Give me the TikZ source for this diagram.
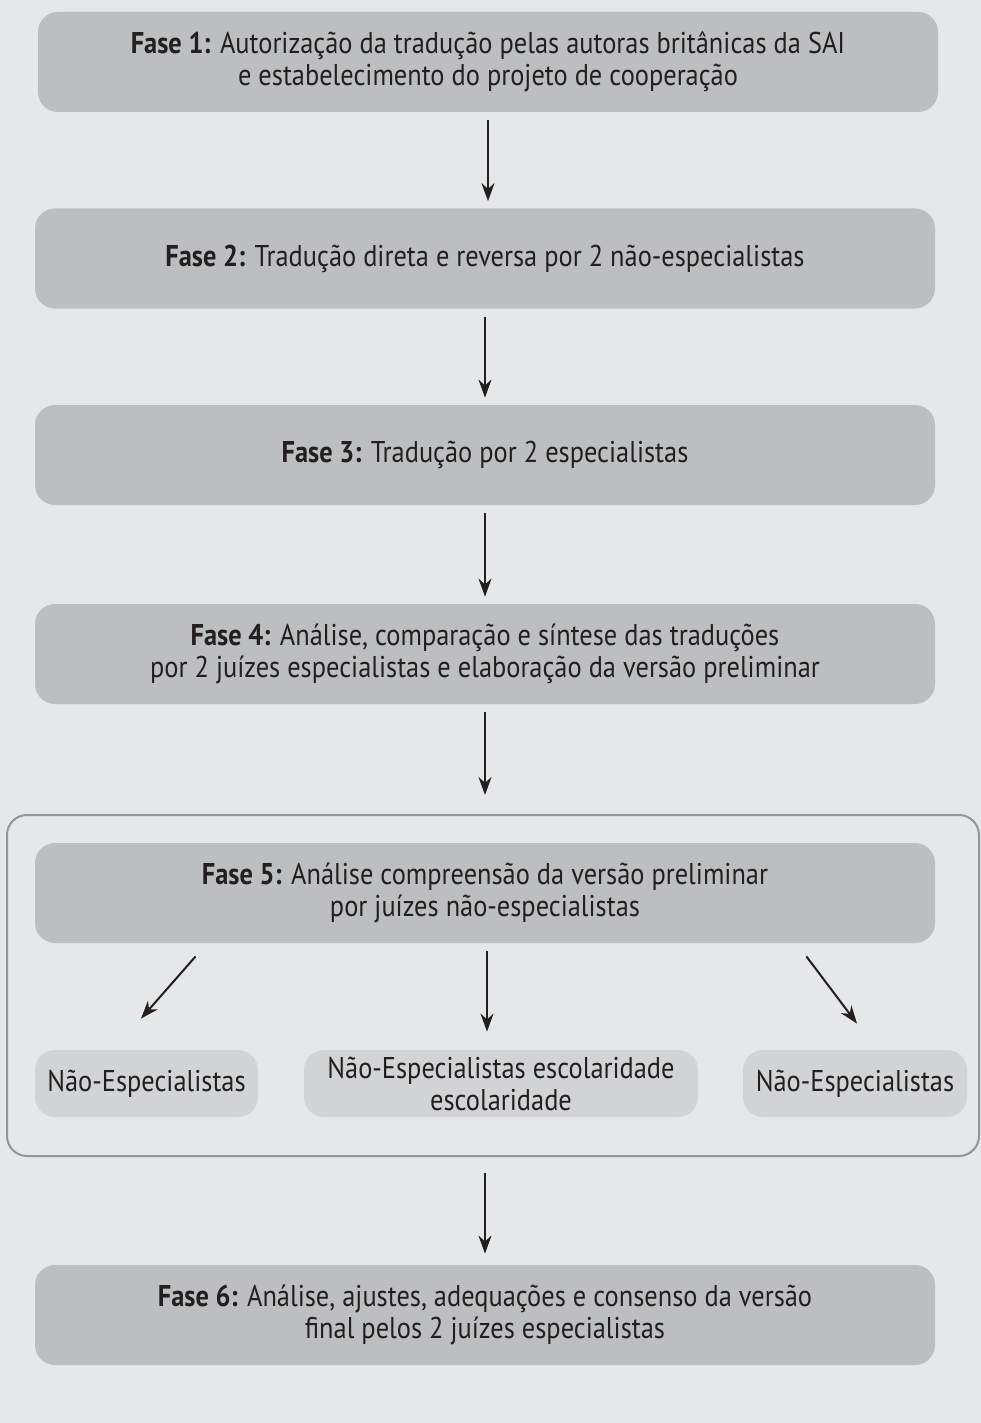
\documentclass[tikz,border=0pt]{standalone}
\usepackage{fontspec}
\setmainfont[FakeStretch=0.88]{PT Sans}
\usepackage{tikz}
\usetikzlibrary{arrows.meta}
\definecolor{fundo}{HTML}{e6e7e8}
\definecolor{caixa}{HTML}{bcbec0}
\definecolor{caixaclara}{HTML}{d1d3d4}
\definecolor{moldura}{HTML}{939598}
\definecolor{tinta}{HTML}{231f20}

\begin{document}
\begin{tikzpicture}[x=0.5pt,y=-0.5pt,
  fase/.style={fill=caixa,rounded corners=10pt,minimum width=450pt,minimum height=50pt,
    align=center,inner sep=0pt,text=tinta,font=\fontsize{15}{16}\selectfont},
  grupo/.style={fill=caixaclara,rounded corners=10pt,minimum height=33.5pt,
    align=center,inner sep=0pt,text=tinta,font=\fontsize{15}{16}\selectfont},
  seta/.style={draw=tinta,line width=1pt,-{Stealth[length=9pt,width=6.5pt]}}]
  \useasboundingbox (0,0) rectangle (980,1423);
  \fill[fundo] (-10,-10) rectangle (1000,1433);
  \node[draw=moldura,line width=1pt,rounded corners=10pt,minimum width=486pt,minimum height=170.5pt,inner sep=0pt]
    (caixa5) at (493,985.5) {};
  \node[fase] (f1) at (488,62) {\textbf{Fase 1:} Autorização da tradução pelas autoras britânicas da SAI\\e estabelecimento do projeto de cooperação};
  \node[fase] (f2) at (485,258.5) {\textbf{Fase 2:} Tradução direta e reversa por 2 não-especialistas};
  \node[fase] (f3) at (485,455) {\textbf{Fase 3:} Tradução por 2 especialistas};
  \node[fase] (f4) at (485,654) {\textbf{Fase 4:} Análise, comparação e síntese das traduções\\por 2 juízes especialistas e elaboração da versão preliminar};
  \node[fase] (f5) at (485,893) {\textbf{Fase 5:} Análise compreensão da versão preliminar\\por juízes não-especialistas};
  \node[fase] (f6) at (485,1315) {\textbf{Fase 6:} Análise, ajustes, adequações e consenso da versão\\final pelos 2 juízes especialistas};
  \node[grupo,minimum width=111.5pt] (ne1) at (146.5,1083.5) {Não-Especialistas};
  \node[grupo,minimum width=197pt] (ne2) at (501,1083.5) {Não-Especialistas escolaridade\\escolaridade};
  \node[grupo,minimum width=112pt] (ne3) at (855,1083.5) {Não-Especialistas};
  % setas entre as fases
  \draw[seta,shorten <=4pt,shorten >=3.5pt] (f1.south) -- (f1.south |- f2.north);
  \draw[seta,shorten <=4pt,shorten >=3.5pt] (f2.south) -- (f2.south |- f3.north);
  \draw[seta,shorten <=4pt,shorten >=3.5pt] (f3.south) -- (f3.south |- f4.north);
  \draw[seta,shorten <=4pt,shorten >=9.5pt] (f4.south) -- (f4.south |- caixa5.north);
  \draw[seta,shorten <=8pt,shorten >=5.5pt] (caixa5.south -| f6.north) -- (f6.north);
  % setas da fase 5
  \draw[seta] ([shift={(161,13)}]f5.south west) -- ([shift={(-5.5,-31)}]ne1.north);
  \draw[seta,shorten <=4pt,shorten >=9pt] ([xshift=1pt]f5.south) -- ([xshift=1pt]f5.south |- ne2.north);
  \draw[seta] ([shift={(-129,13)}]f5.south east) -- ([shift={(2,-26)}]ne3.north);
\end{tikzpicture}
\end{document}
